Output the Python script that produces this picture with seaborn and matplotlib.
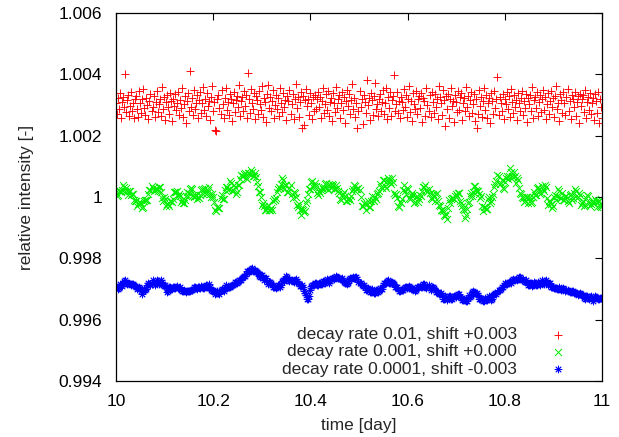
import numpy as np
import pandas as pd
import matplotlib
matplotlib.use("Agg")
import matplotlib.pyplot as plt
import seaborn as sns
from matplotlib.ticker import FuncFormatter

# relative intensity deviations from 1.0, in units of 1e-5
red_dev = [
    5, -30, 22, -14, 38, -41, 10, 27, -8, 100, -22, 15, 33, -35, -3, 41, -19, 8, -44, 20,
    30, -12, -38, 45, 6, -27, 18, 52, -9, -33, 24, 1, -46, 13, 35, -18, -5, 29, -40, 11,
    47, -23, 3, 19, -36, 60, -14, 26, -49, 9, 32, -7, -28, 40, 14, -52, 21, -2, 36, -17,
    8, 43, -31, 17, -11, 55, -39, 2, 28, -58, 12, 38, -20, 110, -6, 24, -34, 50, -13, 7,
    31, -42, 16, 44, -25, 5, 58, -15, 21, -37, 39, -4, 13, -48, 26, 62, -21, 9, -80, -85,
    18, 34, -10, -29, 48, 3, -44, 23, 57, -16, 11, -33, 37, 19, -53, 6, 42, -24, 15, 29,
    -8, 64, -37, 12, 25, -19, 46, -2, 33, -41, 104, 20, -26, 53, 7, -12, 39, -47, 28, 16,
    -30, 45, 4, -17, 61, -38, 22, 10, -55, 35, 66, -9, 27, -21, 14, 50, -43, 1, 31, -14,
    23, -35, 57, 8, -24, 40, -6, 17, -50, 30, 12, 48, -28, 3, 36, -45, 20, 70, -11, 26,
    -39, 9, 43, -75, 29, -64, 15, 52, -3, 21, -31, 38, 6, -47, 25, -20, 33, -12, 18, 44,
    -7, 27, -42, 14, 56, -26, 2, 35, -15, 47, -36, 11, 24, -53, 39, 5, -22, 60, -9, 19,
    32, -44, 8, 41, -17, 26, -58, 13, 50, -4, 37, -29, 15, 68, -12, 22, -40, 6, -75, -19,
    45, -8, 18, -61, 34, 10, -27, 82, -1, 24, -48, 39, 15, -33, 28, 72, -14, 4, -37, 20,
    36, -21, 11, 49, -30, 7, 55, -46, 25, -10, 41, -35, 17, 30, 98, -18, 3, 44, -26, 13,
    -43, 27, 9, -16, 52, -5, 33, -39, 20, 61, -24, 12, -51, 38, 4, -13, 46, -30, 18, 28,
    -9, 40, -55, 23, 14, -35, 57, 1, -20, 31, -38, 43, 10, -27, 36, -6, 19, -46, 63, 25,
    7, -33, 48, 16, -68, 29, -12, 37, -41, 21, 54, -3, 13, -57, 32, 9, -22, 45, -15, 26,
    38, -48, 6, 24, -19, 59, -7, 30, -36, 17, 42, -25, 3, 35, -52, 20, -75, -30, 49, -2,
    27, -40, 14, 55, -17, 32, -44, 8, 23, -60, 40, 12, -28, 47, -9, 18, 91, -33, 25, 5,
    -21, 36, -47, 19, 2, 44, -14, 28, -38, 51, 10, -26, 33, -5, 16, -50, 39, 7, -18, 24,
    46, -31, 13, -9, 37, -54, 22, 4, 31, -20, 58, -42, 15, 27, -11, 43, -35, 9, 34, -24,
    18, 50, -16, 26, -45, 3, 39, -29, 12, 47, -6, 23, -39, 30, 62, -13, 8, -52, 35, 15,
    -27, 41, 6, -34, 25, 53, -18, 14, -46, 32, 20, -8, 44, -37, 11, 28, -58, 37, -4, 19,
    33, -22, 48, -41, 10, 26, -15, 40, -30, 5, 22, -48, 36, 13, -25, 42, -60, 18, -8, -42,
]

green_dev = [
    17, 3, 7, 19, 18, 16, 23, 39, 32, 19, 30, 21, 5, 20, 18, 8, 9, 11, -11, -14,
    -14, -29, -24, -17, -20, -19, -37, -31, -12, -11, -11, -11, 11, 23, 23, 36, 30, 21, 23, 29,
    27, 21, 34, 31, 15, -4, -14, 0, -8, -28, -24, -23, -28, -13, -14, -16, -6, 17, 17, 15,
    18, 4, 10, 2, -17, -9, -19, -21, -9, 4, 15, 3, 14, 27, 28, 27, 7, 1, 5, 4,
    -6, -1, -4, 5, 23, 26, 10, 26, 30, 11, 13, 23, 32, 9, 0, 9, -1, -17, -43, -47,
    -31, -36, -37, -3, 7, -6, -6, 22, 33, 31, 23, 26, 53, 47, 19, 24, 38, 31, 9, 15,
    38, 40, 60, 72, 70, 68, 74, 79, 62, 58, 78, 79, 75, 87, 83, 70, 69, 78, 64, 48,
    36, 16, 17, 0, -27, -19, -30, -42, -41, -32, -26, -44, -41, -36, -44, -14, -5, -9, -3, 16,
    27, 32, 29, 41, 62, 54, 25, 38, 39, 17, 17, 29, 39, 11, -2, 15, 13, -1, -25, -34,
    -22, -42, -59, -38, -42, -50, -47, -21, -11, 11, 27, 26, 50, 52, 32, 35, 46, 37, 14, 8,
    20, 13, 23, 32, 27, 32, 44, 47, 28, 24, 43, 39, 29, 42, 39, 27, 27, 40, 28, 18,
    13, -8, -9, 5, 10, 15, 2, -12, -12, -6, -2, -11, 2, 20, 26, 40, 35, 25, 26, 28,
    22, 0, -30, -30, -20, -22, -43, -22, -14, -33, -31, -13, 4, -11, -12, 0, -6, 9, 14, 18,
    41, 34, 30, 54, 55, 36, 28, 53, 62, 59, 49, 44, 62, 48, 12, 6, 9, -3, -29, -31,
    -16, -19, -5, 23, 38, 20, 11, 30, 27, -2, -7, 6, 13, 5, -19, -16, 0, 4, -17, -8,
    6, 2, 18, 31, 34, 38, 24, 17, 25, 13, -2, -7, 10, 4, -14, 9, 12, -12, -26, -30,
    -43, -41, -47, -59, -61, -56, -72, -35, -10, -19, -5, -3, -2, -7, 3, 11, 2, 12, 12, -13,
    -18, -30, -39, -41, -67, -59, -39, -20, -16, 2, 14, 3, 16, 37, 35, 22, 18, 21, 10, -3,
    3, -30, -45, -31, -32, -39, -39, -8, 1, -18, -13, 1, 9, 34, 42, 52, 73, 70, 42, 46,
    54, 30, 27, 49, 62, 69, 59, 69, 94, 83, 69, 64, 81, 70, 46, 62, 57, 30, 13, 10,
    -1, -4, -16, -13, 0, 0, -20, -4, 1, -19, -16, 1, 17, 5, 6, 28, 32, 26, 10, 12,
    35, 26, 20, 38, 32, -4, -27, -14, -17, -23, -35, -30, 0, 7, -9, 4, 26, 19, -2, -4,
    12, -9, -11, 3, 4, -12, -19, 6, 9, -10, -4, 13, 25, 20, -2, 0, 13, 6, -25, -20,
    -12, -29, -26, -4, 8, 3, -19, -29, -24, -17, -13, -20, -5, -12, -32, -12, -12, -28, -34, -24,
]

blue_dev = [
    8, 7, -1, 3, 15, 14, 9, 16, 26, 28, 21, 17, 19, 19, 17, 12, 15, 17, 13, 9,
    6, 1, 3, 8, 4, -8, -15, -5, 1, -4, 0, 13, 19, 16, 13, 17, 28, 24, 13, 18,
    28, 25, 16, 19, 30, 23, 12, 11, 14, 6, -10, -5, 6, 5, 1, -1, 5, 7, 4, 5,
    9, 3, 4, 5, -2, -6, -7, -4, -6, -10, -7, -5, -8, -5, -2, -4, 0, 8, 7, 2,
    0, 5, 5, 4, 10, 8, 2, 4, 11, 12, 6, 7, 15, 7, -3, -6, -2, -7, -17, -13,
    -7, -14, -15, -3, 1, -4, -5, 6, 12, 4, 5, 8, 5, 9, 13, 12, 17, 24, 22, 20,
    23, 29, 30, 29, 36, 40, 41, 43, 49, 58, 58, 56, 60, 65, 67, 60, 60, 62, 58, 54,
    52, 43, 40, 47, 46, 36, 30, 35, 36, 22, 15, 22, 23, 18, 13, 6, 5, 8, 2, 6,
    13, 13, 7, 13, 27, 28, 25, 32, 43, 40, 29, 26, 29, 29, 27, 24, 29, 31, 27, 21,
    16, 9, 9, 12, 8, -5, -14, -21, -32, -32, -24, -3, 11, 12, 14, 14, 20, 20, 13, 14,
    20, 21, 16, 17, 26, 25, 20, 24, 32, 30, 21, 25, 34, 35, 35, 32, 37, 41, 40, 37,
    37, 33, 34, 35, 28, 22, 21, 21, 17, 20, 31, 35, 32, 35, 38, 36, 40, 40, 33, 24,
    18, 19, 13, 10, 14, 7, -4, -2, 3, 0, -10, -9, -1, -7, -14, -12, -2, -3, -11, -5,
    4, -1, -1, 14, 21, 18, 19, 26, 28, 20, 19, 24, 23, 19, 15, 7, 5, 7, 1, -6,
    -8, -2, -2, -4, 2, 6, 5, 4, 6, 10, 6, 0, 0, 1, 0, -6, -3, 5, 7, 7,
    10, 5, 7, 16, 16, 8, 4, 11, 14, 2, -3, 5, 6, 2, -3, -10, -11, -10, -16, -16,
    -13, -19, -32, -32, -23, -27, -35, -30, -22, -22, -31, -32, -27, -24, -23, -26, -21, -16, -17, -25,
    -30, -37, -37, -32, -35, -40, -40, -28, -21, -26, -22, -11, -5, -10, -14, -16, -12, -18, -33, -34,
    -30, -32, -40, -39, -30, -32, -37, -32, -24, -26, -37, -31, -18, -15, -13, -15, -9, -3, -3, 0,
    5, 5, 12, 18, 16, 16, 19, 22, 22, 21, 28, 31, 28, 30, 32, 30, 34, 40, 38, 32,
    30, 31, 27, 24, 28, 22, 12, 13, 18, 18, 10, 13, 23, 19, 13, 14, 24, 21, 12, 19,
    29, 20, 17, 27, 29, 19, 13, 18, 20, 8, 5, 7, 3, 3, 3, -1, 1, 5, 1, -2,
    -1, 2, -1, -6, -4, -4, -7, -10, -10, -5, -8, -14, -14, -13, -14, -19, -16, -13, -15, -19,
    -20, -29, -32, -24, -24, -30, -32, -25, -22, -34, -39, -29, -24, -26, -29, -34, -33, -28, -30, -33,
]

labels = [
    "decay rate 0.01, shift +0.003",
    "decay rate 0.001, shift +0.000",
    "decay rate 0.0001, shift -0.003",
]
shifts = [0.003, 0.000, -0.003]
t_start, t_end = 10.0, 11.0

x_ticks = [10, 10.2, 10.4, 10.6, 10.8, 11]
y_ticks = [0.994, 0.996, 0.998, 1.0, 1.002, 1.004, 1.006]

sns.set_style("white")
plt.rcParams["font.family"] = ["Liberation Sans", "DejaVu Sans"]
FS = 12.5
plt.rcParams["font.size"] = FS

fig = plt.figure(figsize=(6.19, 4.37), dpi=100)
ax = fig.add_axes([116 / 619, 56 / 437, 486 / 619, 368 / 437])

def frame(dev, shift, label):
    n = len(dev)
    t = np.linspace(t_start, t_end, n)
    v = 1.0 + np.asarray(dev) * 1e-5 + shift
    return pd.DataFrame({"time": t, "value": v, "series": label})

df_r = frame(red_dev, shifts[0], labels[0])
df_g = frame(green_dev, shifts[1], labels[1])
df_b = frame(blue_dev, shifts[2], labels[2])

sns.scatterplot(data=df_r, x="time", y="value", marker="+", s=32, color="#ff0000",
                edgecolor="#ff0000", linewidth=0.65, ax=ax, label=labels[0])
sns.scatterplot(data=df_g, x="time", y="value", marker="x", s=26, color="#00ee00",
                edgecolor="#00ee00", linewidth=0.7, ax=ax, label=labels[1])
sns.scatterplot(data=df_b, x="time", y="value", marker=(8, 2, 0), s=24, color="#0000ff",
                edgecolor="#0000ff", linewidth=0.65, ax=ax, label=labels[2])

ax.set_xlim(t_start, t_end)
ax.set_ylim(y_ticks[0], y_ticks[-1])
ax.set_xticks(x_ticks)
ax.set_yticks(y_ticks)
fmt = FuncFormatter(lambda v, p: f"{round(v, 6):g}")
ax.xaxis.set_major_formatter(fmt)
ax.yaxis.set_major_formatter(fmt)
ax.tick_params(direction="in", top=True, right=True, length=5, width=0.8,
               colors="black", labelsize=FS)
ax.tick_params(axis="x", pad=9)
ax.tick_params(axis="y", pad=10)
for s in ax.spines.values():
    s.set_visible(True)
    s.set_color("black")
    s.set_linewidth(0.9)

ax.set_xlabel("time [day]", fontsize=FS, labelpad=7)
ax.set_ylabel("relative intensity [-]", fontsize=FS)
ax.yaxis.set_label_coords(-0.168, 0.5)

leg = ax.legend(loc="lower right", bbox_to_anchor=(0.946, 0.012), frameon=False,
                markerfirst=False, handlelength=2.0, handletextpad=1.4,
                labelspacing=0.12, borderpad=0, borderaxespad=0, fontsize=FS)

fig.savefig("out.png", dpi=100)
